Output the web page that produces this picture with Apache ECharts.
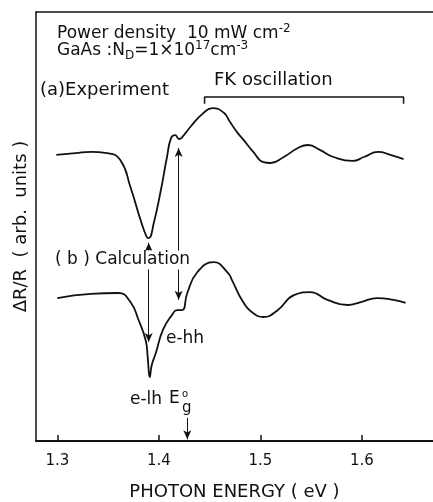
<!DOCTYPE html>
<html>
<head>
<meta charset="utf-8">
<script src="https://cdn.jsdelivr.net/npm/echarts@6/dist/echarts.min.js"></script>
<style>
  html, body { margin: 0; padding: 0; background: #fff; }
  #chart { width: 433px; height: 502px; }
</style>
</head>
<body>
<div id="chart"></div>
<script>
// (a) experiment, photon energy (eV) vs dR/R (arb. units, 0..100 of the frame)
const expEnergy = [1.299, 1.318, 1.333, 1.349, 1.362, 1.372, 1.382, 1.388, 1.390, 1.395, 1.402, 1.408, 1.412, 1.416, 1.420, 1.424, 1.431, 1.444, 1.453, 1.464, 1.470, 1.477, 1.483, 1.493, 1.503, 1.510, 1.523, 1.537, 1.547, 1.559, 1.572, 1.591, 1.602, 1.616, 1.628, 1.641];
const expSignal = [66.7, 67.1, 67.4, 67.1, 65.5, 59.2, 51.5, 47.6, 47.3, 50.8, 58.5, 66.2, 70.6, 71.3, 70.4, 71.1, 73.2, 76.5, 77.6, 76.5, 74.4, 72.0, 70.3, 67.4, 65.0, 64.8, 66.2, 68.3, 69.0, 67.8, 66.2, 65.3, 66.2, 67.4, 66.7, 65.7];

// (b) calculation
const calcEnergy = [1.300, 1.333, 1.360, 1.372, 1.380, 1.387, 1.389, 1.391, 1.393, 1.397, 1.404, 1.413, 1.418, 1.423, 1.428, 1.438, 1.454, 1.468, 1.472, 1.483, 1.493, 1.503, 1.517, 1.533, 1.549, 1.566, 1.586, 1.599, 1.615, 1.631, 1.643];
const calcSignal = [33.3, 34.3, 34.5, 32.4, 28.2, 23.5, 19.6, 14.9, 17.7, 20.5, 25.9, 29.4, 30.5, 30.5, 34.5, 39.4, 41.7, 39.2, 37.5, 32.4, 29.8, 28.9, 30.5, 34.0, 34.7, 32.9, 31.7, 32.4, 33.3, 32.9, 32.2];

const tickValues = [1.3, 1.4, 1.5, 1.6];

// annotation positions in data units
const fkBracketX = [1.445, 1.445, 1.641, 1.641];
const fkBracketY = [78.6, 80.2, 80.2, 78.6];
const lhArrow = { e: 1.390, from: 46.2, to: 23.1 };
const hhArrow = { e: 1.4195, from: 68.3, to: 32.9 };
const egArrow = { e: 1.428, from: 5.4, to: 0.4 };

const ink = '#111';
const font = 'DejaVu Sans';

const chart = echarts.init(document.getElementById('chart'));

const zip = (xs, ys) => xs.map((x, i) => [x, ys[i]]);

const arrowLine = (a, both) => [
  { coord: [a.e, a.from], symbol: both ? 'arrow' : 'none' },
  { coord: [a.e, a.to], symbol: 'arrow' }
];

const txt = (x, y, text, size, extra) => ({
  type: 'text',
  x: x,
  y: y,
  z: 10,
  style: Object.assign({
    text: text,
    fontFamily: font,
    fontSize: size,
    fill: ink,
    verticalAlign: 'middle'
  }, extra || {})
});

const supRich = {
  sup: { fontSize: 12, lineHeight: 10, verticalAlign: 'top', fontFamily: font, fill: ink },
  sub: { fontSize: 12, lineHeight: 10, verticalAlign: 'bottom', fontFamily: font, fill: ink }
};

let option = {
  animation: false,
  grid: {
    left: 36,
    right: 0,
    top: 12,
    bottom: 61,
    containLabel: false,
    outerBoundsMode: 'none'
  },
  xAxis: [{
    type: 'value',
    min: 1.279,
    max: 1.67,
    name: 'PHOTON ENERGY ( eV )',
    nameLocation: 'middle',
    nameGap: 42,
    nameTextStyle: { color: ink, fontFamily: font, fontSize: 18 },
    axisLine: { lineStyle: { color: ink, width: 2 } },
    axisTick: { inside: true, length: 6, customValues: tickValues, lineStyle: { color: ink, width: 1.5 } },
    axisLabel: {
      customValues: tickValues,
      margin: 13,
      color: ink,
      fontFamily: font,
      fontSize: 15,
      formatter: v => v.toFixed(1)
    },
    splitLine: { show: false }
  }, {
    type: 'value',
    position: 'top',
    min: 1.279,
    max: 1.67,
    axisLine: { lineStyle: { color: ink, width: 1.5 } },
    axisTick: { show: false },
    axisLabel: { show: false },
    splitLine: { show: false }
  }],
  yAxis: {
    type: 'value',
    min: 0,
    max: 100,
    name: 'ΔR/R  ( arb.  units )',
    nameLocation: 'middle',
    nameRotate: 90,
    nameGap: 6,
    nameTextStyle: { color: ink, fontFamily: font, fontSize: 18 },
    axisLine: { show: true, lineStyle: { color: ink, width: 1.5 } },
    axisTick: { show: false },
    axisLabel: { show: false },
    splitLine: { show: false }
  },
  series: [{
    name: 'Experiment',
    type: 'line',
    data: zip(expEnergy, expSignal),
    showSymbol: false,
    smooth: 0.5,
    lineStyle: { color: ink, width: 1.8 }
  }, {
    name: 'Calculation',
    type: 'line',
    data: zip(calcEnergy, calcSignal),
    showSymbol: false,
    smooth: 0.5,
    lineStyle: { color: ink, width: 1.8 },
    markLine: {
      silent: true,
      symbolSize: [6, 9],
      label: { show: false },
      lineStyle: { color: ink, width: 1, type: 'solid' },
      data: [
        arrowLine(lhArrow, true),
        arrowLine(hhArrow, true),
        arrowLine(egArrow, false)
      ]
    }
  }, {
    name: 'FK bracket',
    type: 'line',
    data: zip(fkBracketX, fkBracketY),
    showSymbol: false,
    lineStyle: { color: ink, width: 1.5 }
  }],
  graphic: [
    txt(57, 34, 'Power density  10 mW cm{sup|-2}', 17, { rich: supRich, lineHeight: 22 }),
    txt(57, 51, 'GaAs :N{sub|D}=1×10{sup|17}cm{sup|-3}', 17, { rich: supRich, lineHeight: 22 }),
    txt(40, 90, '(a)Experiment', 18),
    txt(214, 80, 'FK oscillation', 18),
    txt(55, 260, '( b ) Calculation', 17, { backgroundColor: '#fff', padding: [1, 0, 1, 0] }),
    txt(166, 339, 'e-hh', 17),
    txt(130, 400, 'e-lh', 17),
    txt(169, 399, 'E', 17),
    txt(182, 394, 'o', 10),
    txt(182, 408, 'g', 15)
  ]
};

chart.setOption(option);
</script>
</body>
</html>
